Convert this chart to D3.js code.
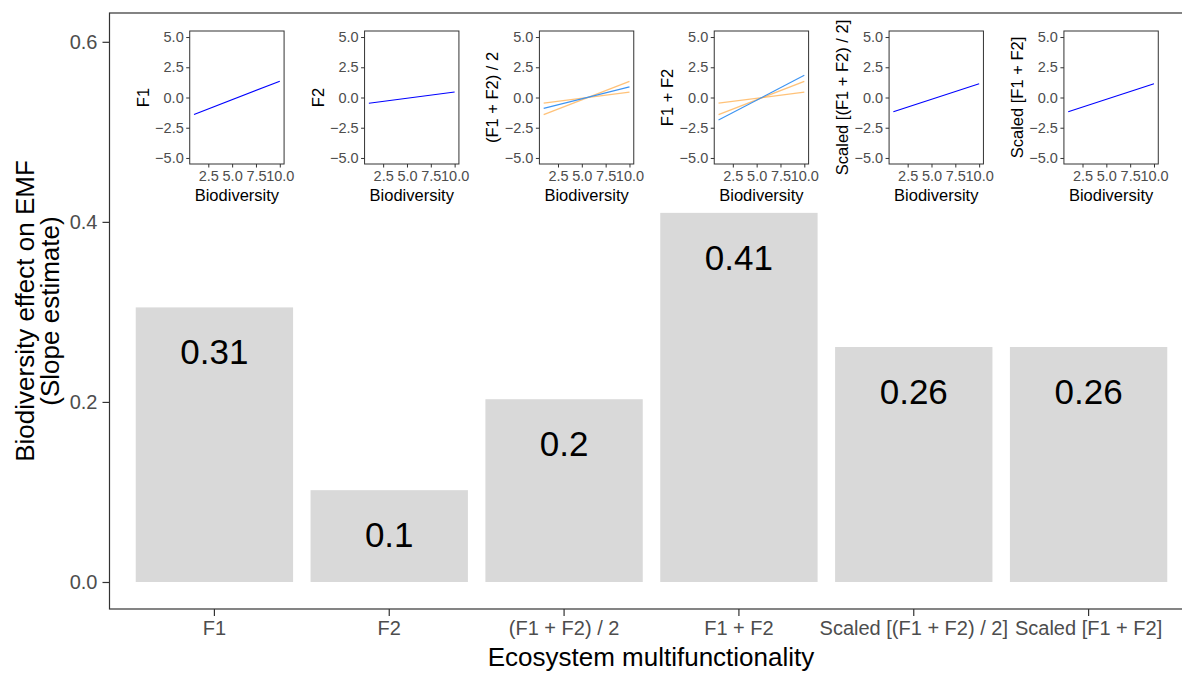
<!DOCTYPE html>
<html>
<head>
<meta charset="utf-8">
<script src="https://cdn.jsdelivr.net/npm/d3@7"></script>
<style>
  html, body { margin: 0; padding: 0; background: #fff; }
  svg { display: block; font-family: "Liberation Sans", Arial, Helvetica, sans-serif; }
</style>
</head>
<body>
<svg id="chart" width="1182" height="673"></svg>
<script>
// ---------- data ----------
const categories = ["F1", "F2", "(F1 + F2) / 2", "F1 + F2", "Scaled [(F1 + F2) / 2]", "Scaled [F1 + F2]"];
const slopes = [0.305, 0.102, 0.203, 0.41, 0.261, 0.261];
const slopeLabels = ["0.31", "0.1", "0.2", "0.41", "0.26", "0.26"];
const yTicks = [0.0, 0.2, 0.4, 0.6];

// inset line endpoints (x = 1 and x = 10)
const insetX = [1, 10];
const insetMain = [[-1.4, 1.35], [-0.48, 0.45], [-0.9, 0.88], [-1.87, 1.84], [-1.18, 1.14], [-1.18, 1.14]];
const insetComponents = [[], [], [[-1.42, 1.34], [-0.47, 0.45]], [[-1.42, 1.34], [-0.47, 0.45]], [], []];
const insetMainColor = ["#0000FF", "#0000FF", "#3D94F2", "#3D94F2", "#0000FF", "#0000FF"];
const insetXTicks = [2.5, 5.0, 7.5, 10.0];
const insetYTicks = [-5.0, -2.5, 0.0, 2.5, 5.0];

// ---------- layout ----------
const svg = d3.select("#chart");
const panel = { left: 109.5, right: 1193.5, top: 13, bottom: 609 };
const x = d3.scaleBand().domain(categories).range([panel.left, panel.right]).paddingInner(0.1).paddingOuter(0.15);
const y = d3.scaleLinear().domain([-0.03, 0.632]).range([panel.bottom, panel.top]);
const fmt1 = d3.format(".1f");
const minusFmt = v => fmt1(v).replace("-", "\u2212");

// bars
svg.append("g").selectAll("rect").data(categories).join("rect")
  .attr("x", d => x(d))
  .attr("width", x.bandwidth())
  .attr("y", (d, i) => y(slopes[i]))
  .attr("height", (d, i) => y(0) - y(slopes[i]))
  .attr("fill", "#D9D9D9");

// bar labels
svg.append("g").selectAll("text").data(categories).join("text")
  .attr("x", d => x(d) + x.bandwidth() / 2)
  .attr("y", (d, i) => y(slopes[i]) + 57)
  .attr("text-anchor", "middle")
  .attr("font-size", 35)
  .attr("fill", "#000")
  .text((d, i) => slopeLabels[i]);

// insets
categories.forEach((cat, i) => {
  const pl = x(cat) + 54, pr = x(cat) + x.bandwidth() - 9;
  const pt = 31, pb = 164;
  const ix = d3.scaleLinear().domain([0.55, 10.45]).range([pl, pr]);
  const iy = d3.scaleLinear().domain([-5.5, 5.5]).range([pb, pt]);
  const g = svg.append("g");
  g.append("rect").attr("x", pl).attr("y", pt).attr("width", pr - pl).attr("height", pb - pt)
    .attr("fill", "#fff");
  const line = d3.line().x((d, k) => ix(insetX[k])).y(d => iy(d));
  insetComponents[i].forEach(c => {
    g.append("path").attr("d", line(c)).attr("fill", "none")
      .attr("stroke", "#FF9A1F").attr("stroke-opacity", 0.6).attr("stroke-width", 1.3);
  });
  g.append("path").attr("d", line(insetMain[i])).attr("fill", "none")
    .attr("stroke", insetMainColor[i]).attr("stroke-width", 1.1);
  g.append("rect").attr("x", pl).attr("y", pt).attr("width", pr - pl).attr("height", pb - pt)
    .attr("fill", "none").attr("stroke", "#333333").attr("stroke-width", 1);
  // y axis
  const ya = g.append("g").attr("transform", `translate(${pl},0)`)
    .call(d3.axisLeft(iy).tickValues(insetYTicks).tickSize(3.5).tickPadding(2.5).tickFormat(minusFmt));
  ya.select(".domain").remove();
  ya.selectAll("line").attr("stroke", "#333333");
  ya.selectAll("text").attr("font-size", 14.5).attr("fill", "#4D4D4D").attr("font-family", null);
  // x axis
  const xa = g.append("g").attr("transform", `translate(0,${pb})`)
    .call(d3.axisBottom(ix).tickValues(insetXTicks).tickSize(3.5).tickPadding(3).tickFormat(fmt1));
  xa.select(".domain").remove();
  xa.selectAll("line").attr("stroke", "#333333");
  xa.selectAll("text").attr("font-size", 14.5).attr("fill", "#4D4D4D").attr("font-family", null);
  // titles
  g.append("text").attr("x", (pl + pr) / 2).attr("y", 200.5).attr("text-anchor", "middle")
    .attr("font-size", 16.5).attr("fill", "#000").text("Biodiversity");
  g.append("text").attr("transform", `translate(${pl - 41},${(pt + pb) / 2}) rotate(-90)`)
    .attr("text-anchor", "middle").attr("font-size", 16.5).attr("fill", "#000").text(cat);
});

// main panel border (left, top, bottom; right is off-canvas)
svg.append("rect").attr("x", panel.left).attr("y", panel.top)
  .attr("width", panel.right - panel.left).attr("height", panel.bottom - panel.top)
  .attr("fill", "none").attr("stroke", "#333333").attr("stroke-width", 1.2);

// y axis
const yAxis = svg.append("g").attr("transform", `translate(${panel.left},0)`)
  .call(d3.axisLeft(y).tickValues(yTicks).tickSize(7).tickPadding(5).tickFormat(fmt1));
yAxis.select(".domain").remove();
yAxis.selectAll("line").attr("stroke", "#333333").attr("stroke-width", 1.2);
yAxis.selectAll("text").attr("font-size", 20).attr("fill", "#4D4D4D").attr("font-family", null);

// x axis
const xAxis = svg.append("g").attr("transform", `translate(0,${panel.bottom})`)
  .call(d3.axisBottom(x).tickSize(7).tickPadding(5));
xAxis.select(".domain").remove();
xAxis.selectAll("line").attr("stroke", "#333333").attr("stroke-width", 1.2);
xAxis.selectAll("text").attr("font-size", 20).attr("fill", "#4D4D4D").attr("font-family", null);

// axis titles
svg.append("text").attr("x", 651).attr("y", 666).attr("text-anchor", "middle")
  .attr("font-size", 26).attr("fill", "#000").text("Ecosystem multifunctionality");
const yt = svg.append("text").attr("transform", `translate(0,${(panel.top + panel.bottom) / 2}) rotate(-90)`)
  .attr("text-anchor", "middle").attr("font-size", 26).attr("fill", "#000");
yt.append("tspan").attr("x", 0).attr("y", 34).text("Biodiversity effect on EMF");
yt.append("tspan").attr("x", 0).attr("y", 58.5).text("(Slope estimate)");
</script>
</body>
</html>
